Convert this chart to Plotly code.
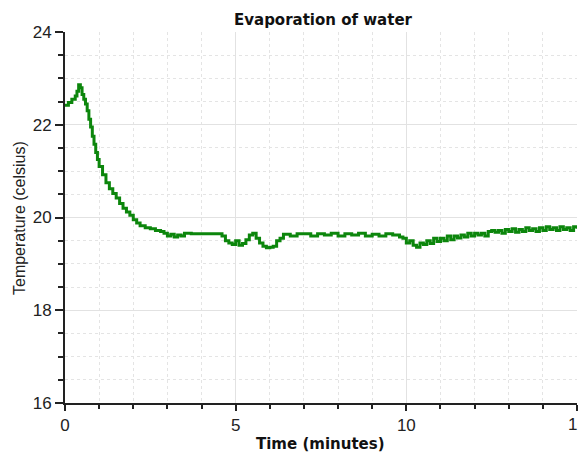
import plotly.graph_objects as go

# Segment A: initial rise and fast cooling (minutes, celsius)
times_a = [0.0, 0.1, 0.2, 0.3, 0.35, 0.4, 0.45, 0.5, 0.55, 0.6, 0.65, 0.7, 0.75, 0.8, 0.85,
           0.9, 0.95, 1.0, 1.1, 1.2, 1.3, 1.4, 1.5, 1.6, 1.7, 1.8, 1.9, 2.0, 2.1, 2.2,
           2.35, 2.5, 2.65, 2.8, 2.9]
temps_a = [22.42, 22.48, 22.55, 22.62, 22.72, 22.86, 22.8, 22.65, 22.55, 22.45, 22.3, 22.12, 21.95, 21.75, 21.58,
           21.4, 21.25, 21.1, 20.92, 20.75, 20.62, 20.52, 20.42, 20.3, 20.2, 20.12, 20.05, 19.95, 19.88, 19.82,
           19.78, 19.76, 19.72, 19.7, 19.66]

# Segment B: plateau and dip around 5-6 minutes
times_b = [3.0, 3.1, 3.2, 3.3, 3.4, 3.5, 3.7, 4.0, 4.3, 4.6, 4.7, 4.8, 4.9, 5.0, 5.1,
           5.2, 5.3, 5.4, 5.5, 5.6, 5.7, 5.8, 5.9, 6.0, 6.1, 6.2, 6.3, 6.4]
temps_b = [19.6, 19.64, 19.58, 19.62, 19.6, 19.66, 19.65, 19.65, 19.65, 19.6, 19.5, 19.45, 19.42, 19.5, 19.4,
           19.44, 19.52, 19.62, 19.66, 19.55, 19.45, 19.38, 19.35, 19.36, 19.38, 19.5, 19.55, 19.64]

# Segment C: steady stretch
times_c = [6.6, 6.8, 7.0, 7.2, 7.4, 7.6, 7.8, 8.0, 8.2, 8.4, 8.6, 8.8, 9.0, 9.2, 9.4, 9.6, 9.8, 9.9]
temps_c = [19.6, 19.65, 19.65, 19.6, 19.65, 19.62, 19.66, 19.6, 19.65, 19.62, 19.66, 19.6, 19.64, 19.6, 19.65,
           19.62, 19.58, 19.55]

# Segment D: slow warming from 10 to 15 minutes
times_d = [10.0, 10.1, 10.2, 10.3, 10.4, 10.5, 10.6, 10.7, 10.8, 10.9, 11.0, 11.1, 11.2, 11.3, 11.4,
           11.5, 11.6, 11.7, 11.8, 11.9, 12.0, 12.1, 12.2, 12.3, 12.4, 12.5, 12.6, 12.7, 12.8, 12.9,
           13.0, 13.1, 13.2, 13.3, 13.4, 13.5, 13.6, 13.7, 13.8, 13.9, 14.0, 14.1, 14.2, 14.3, 14.4,
           14.5, 14.6, 14.7, 14.8, 14.9, 15.0]
temps_d = [19.45, 19.5, 19.4, 19.36, 19.45, 19.42, 19.5, 19.44, 19.55, 19.48, 19.55, 19.5, 19.6, 19.52, 19.6,
           19.56, 19.62, 19.58, 19.66, 19.6, 19.66, 19.62, 19.66, 19.6, 19.7, 19.72, 19.68, 19.72, 19.66, 19.74,
           19.7, 19.76, 19.68, 19.74, 19.7, 19.78, 19.72, 19.76, 19.7, 19.78, 19.72, 19.8, 19.74, 19.78, 19.72,
           19.8, 19.74, 19.78, 19.72, 19.8, 19.76]

x_ticks = [0, 5, 10, 15]
y_ticks = [16, 18, 20, 22, 24]

times = times_a + times_b + times_c + times_d
temps = temps_a + temps_b + temps_c + temps_d

fig = go.Figure()
fig.add_trace(go.Scatter(x=times, y=temps, mode="lines", line_shape="hv",
                         line=dict(color="#0c860c", width=3), showlegend=False))

tick_font = dict(family="Liberation Sans, Arial, sans-serif", size=17, color="#222")
label_font = dict(family="DejaVu Sans, Verdana, sans-serif", size=15, color="#111", weight="bold")
ytitle_font = dict(family="Liberation Sans, Arial, sans-serif", size=16, color="#222")

fig.update_layout(
    width=578, height=455,
    margin=dict(l=65, r=1, t=32, b=52),
    paper_bgcolor="white", plot_bgcolor="white",
    title=dict(text="Evaporation of water", x=323 / 578, xref="container", xanchor="center",
               y=1 - 20 / 455, yref="container", yanchor="middle", font=label_font),
    xaxis=dict(range=[0, 15], tickvals=x_ticks, ticks="outside", ticklen=6, tickwidth=2,
               tickcolor="#222", showline=True, linecolor="#222", linewidth=2,
               showgrid=True, gridcolor="#e2e2e2", gridwidth=1, zeroline=False,
               tickfont=tick_font,
               minor=dict(dtick=1, ticks="outside", ticklen=4, tickwidth=2, tickcolor="#222",
                          showgrid=True, gridcolor="#e4e4e4", griddash="dot", gridwidth=1)),
    yaxis=dict(range=[16, 24], tickvals=y_ticks, ticks="outside", ticklen=8, tickwidth=2,
               tickcolor="#222", showline=True, linecolor="#222", linewidth=2,
               showgrid=True, gridcolor="#e2e2e2", gridwidth=1, zeroline=False,
               tickfont=tick_font,
               minor=dict(dtick=0.5, ticks="outside", ticklen=5, tickwidth=2, tickcolor="#222",
                          showgrid=True, gridcolor="#e4e4e4", griddash="dot", gridwidth=1)),
    annotations=[
        dict(text="15", xref="x", yref="paper", x=x_ticks[-1], y=-(424 - 403) / 371,
             xanchor="center", yanchor="middle", showarrow=False, font=tick_font),
        dict(text="Time (minutes)", xref="paper", yref="paper", x=(320 - 65) / 512, y=-(444 - 403) / 371,
             xanchor="center", yanchor="middle", showarrow=False, font=label_font),
        dict(text="Temperature (celsius)", xref="paper", yref="paper", x=-(65 - 19) / 512,
             y=(403 - 218) / 371, xanchor="center", yanchor="middle", textangle=-90,
             showarrow=False, font=ytitle_font),
    ],
)

fig.write_html("out.html")
